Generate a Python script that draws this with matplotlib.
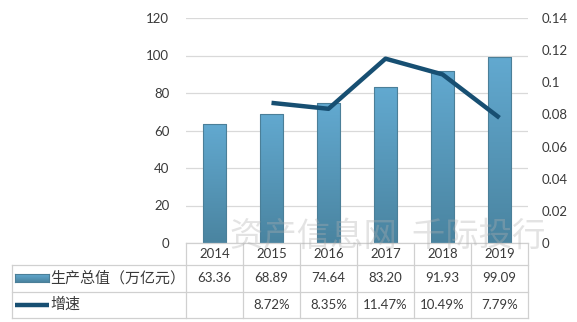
import numpy as np
import matplotlib
matplotlib.use('Agg')
import matplotlib.pyplot as plt
from matplotlib.colors import LinearSegmentedColormap
from matplotlib.lines import Line2D
import matplotlib.transforms as mtransforms

plt.rcParams['font.family'] = ['Lato', 'Noto Sans CJK SC', 'DejaVu Sans']

years = ['2014', '2015', '2016', '2017', '2018', '2019']
output_value = [63.36, 68.89, 74.64, 83.20, 91.93, 99.09]
growth = [None, 0.0872, 0.0835, 0.1147, 0.1049, 0.0779]
row_labels = ['生产总值（万亿元）', '增速']

text_color = '#3a3a3a'
grid_color = '#d9d9d9'
line_color = '#174f72'
bar_cmap = LinearSegmentedColormap.from_list('bar', ['#4a84a0', '#62a9d0'])
cjk = ['Noto Sans CJK SC', 'DejaVu Sans']

W, H = 577, 322
fig = plt.figure(figsize=(W / 100, H / 100), dpi=100)
x0, x1, y0, y1 = 186, 528, 243, 18
ax = fig.add_axes([x0 / W, 1 - y0 / H, (x1 - x0) / W, (y0 - y1) / H])
ax2 = ax.twinx()

x = np.arange(len(years))
ax.set_yticks(np.arange(0, 121, 20))
ax.yaxis.grid(True, color=grid_color, lw=0.9)
ax.set_axisbelow(True)
ax.set_xticks([])

# bars with a vertical gradient
bars = ax.bar(x, output_value, width=0.42, color='none', edgecolor='#4b7f98', lw=0.8, zorder=3)
grad = np.linspace(0, 1, 256).reshape(-1, 1)
for b in bars:
    bx, by = b.get_x(), b.get_y()
    im = ax.imshow(grad, cmap=bar_cmap, origin='lower', aspect='auto',
                   extent=[bx, bx + b.get_width(), by, by + b.get_height()], zorder=2)
    im.set_clip_path(b)
ax.set_xlim(-0.5, len(years) - 0.5)
ax.set_ylim(0, 120)

gx = [i for i, g in enumerate(growth) if g is not None]
gy = [g for g in growth if g is not None]
ax2.plot(gx, gy, color=line_color, lw=3.2, solid_capstyle='butt', zorder=4)
ax2.set_ylim(0, 0.14)
ax2.set_yticks(np.arange(0, 0.141, 0.02))
ax2.set_yticklabels(['0', '0.02', '0.04', '0.06', '0.08', '0.1', '0.12', '0.14'])

for a in (ax, ax2):
    for s in a.spines.values():
        s.set_visible(False)
    a.tick_params(length=0, labelsize=9.5, colors=text_color)
ax.tick_params(axis='y', pad=12)
ax2.tick_params(axis='y', pad=10)

# data table below the plot
tr = mtransforms.blended_transform_factory(ax.transData, fig.transFigure)
def fy(py):
    return 1 - py / H

first_left = -0.5 - (x0 - 12) / ((x1 - x0) / len(years))
rows_y = [243, 265, 292, 318]
lkw = dict(color='#d0d0d0', lw=0.9, transform=tr, clip_on=False)
# horizontal lines
fig.add_artist(Line2D([-0.5, len(years) - 0.5], [fy(rows_y[0])] * 2, **lkw))
for ry in rows_y[1:]:
    fig.add_artist(Line2D([first_left, len(years) - 0.5], [fy(ry)] * 2, **lkw))
# vertical lines
for i in range(len(years) + 1):
    fig.add_artist(Line2D([i - 0.5] * 2, [fy(rows_y[0]), fy(rows_y[-1])], **lkw))
fig.add_artist(Line2D([first_left] * 2, [fy(rows_y[1]), fy(rows_y[-1])], **lkw))

tkw = dict(transform=tr, ha='center', va='center', fontsize=9.5, color=text_color)
for i, yr in enumerate(years):
    fig.text(i, fy((rows_y[0] + rows_y[1]) / 2), yr, **tkw)
    fig.text(i, fy((rows_y[1] + rows_y[2]) / 2), f'{output_value[i]:.2f}', **tkw)
    if growth[i] is not None:
        fig.text(i, fy((rows_y[2] + rows_y[3]) / 2), f'{growth[i] * 100:.2f}%', **tkw)

# legend keys inside the table
fig.text(50 / W, fy((rows_y[1] + rows_y[2]) / 2), row_labels[0], ha='left', va='center',
         fontsize=10.8, color=text_color, family=cjk)
fig.text(50 / W, fy((rows_y[2] + rows_y[3]) / 2), row_labels[1], ha='left', va='center',
         fontsize=10.8, color=text_color, family=cjk)
key_ax = fig.add_axes([15 / W, fy(282), 34 / W, 8 / H])
key_ax.imshow(grad, cmap=bar_cmap, origin='lower', aspect='auto')
key_ax.set_xticks([]); key_ax.set_yticks([])
for s in key_ax.spines.values():
    s.set_color('#4b7f98'); s.set_linewidth(0.8)
fig.add_artist(Line2D([15 / W, 49 / W], [fy(305)] * 2, color=line_color, lw=3.2,
                      solid_capstyle='butt'))

# watermark
fig.text(388 / W, fy(236), '资产信息网  千际投行', ha='center', va='center', fontsize=24,
         color='#b0b0b0', alpha=0.35, family=cjk, zorder=10)

fig.savefig('out.png', dpi=100)
